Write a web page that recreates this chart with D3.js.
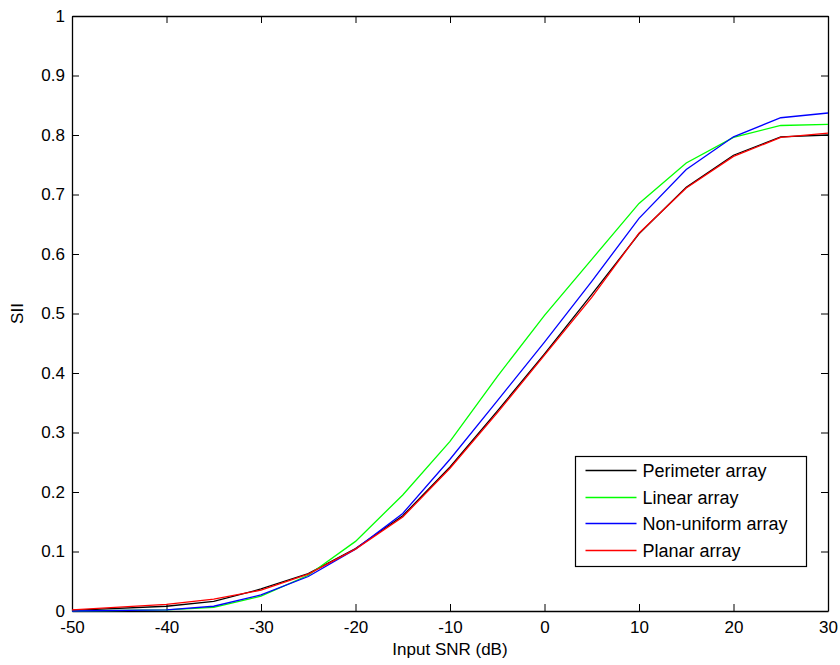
<!DOCTYPE html>
<html>
<head>
<meta charset="utf-8">
<script src="https://cdn.jsdelivr.net/npm/d3@7"></script>
<style>
  body { margin: 0; background: #fff; }
  svg { font-family: "Liberation Sans", Arial, sans-serif; }
  .tick text { font-size: 17px; fill: #000; }
</style>
</head>
<body>
<div id="chart"></div>
<script>
// data
let snr = [-50, -40, -35, -30, -25, -20, -15, -10, -5, 0, 5, 10, 15, 20, 25, 30];
let perimeter = [0.001, 0.008, 0.016, 0.037, 0.063, 0.105, 0.160, 0.242, 0.336, 0.432, 0.532, 0.634, 0.712, 0.766, 0.797, 0.800];
let linear = [0, 0.002, 0.006, 0.025, 0.060, 0.117, 0.195, 0.285, 0.394, 0.497, 0.591, 0.685, 0.753, 0.796, 0.816, 0.818];
let nonUniform = [0, 0.002, 0.008, 0.027, 0.058, 0.104, 0.164, 0.255, 0.353, 0.452, 0.554, 0.660, 0.742, 0.797, 0.829, 0.837];
let planar = [0.002, 0.011, 0.020, 0.035, 0.062, 0.104, 0.158, 0.240, 0.333, 0.430, 0.527, 0.635, 0.711, 0.764, 0.796, 0.803];

let seriesNames = ["Perimeter array", "Linear array", "Non-uniform array", "Planar array"];
let seriesColors = ["#000000", "#00ff00", "#0000ff", "#ff0000"];
let seriesValues = [perimeter, linear, nonUniform, planar];

let xTicks = [-50, -40, -30, -20, -10, 0, 10, 20, 30];
let yTicks = [0, 0.1, 0.2, 0.3, 0.4, 0.5, 0.6, 0.7, 0.8, 0.9, 1];

let svgWidth = 840;
let svgHeight = 665;
let margin = { top: 16, right: 12, bottom: 54, left: 72 };
let width = svgWidth - margin.left - margin.right;
let height = svgHeight - margin.top - margin.bottom;

let svg = d3.select("#chart")
    .append("svg")
    .attr("width", svgWidth)
    .attr("height", svgHeight);

let chartGroup = svg.append("g")
    .attr("transform", `translate(${margin.left},${margin.top})`);

let x = d3.scaleLinear().domain([-50, 30]).range([0, width]);
let y = d3.scaleLinear().domain([0, 1]).range([height, 0]);

// axes with inward ticks on all four sides
let bottomAxis = d3.axisBottom(x).tickValues(xTicks).tickSizeInner(-7).tickSizeOuter(0)
    .tickPadding(10).tickFormat(d => d.toString());
let leftAxis = d3.axisLeft(y).tickValues(yTicks).tickSizeInner(-7).tickSizeOuter(0)
    .tickPadding(7).tickFormat(d => d.toString());
let topAxis = d3.axisTop(x).tickValues(xTicks).tickSizeInner(-7).tickSizeOuter(0).tickFormat("");
let rightAxis = d3.axisRight(y).tickValues(yTicks).tickSizeInner(-7).tickSizeOuter(0).tickFormat("");

chartGroup.append("g").attr("transform", `translate(0,${height})`).call(bottomAxis);
chartGroup.append("g").call(leftAxis);
chartGroup.append("g").call(topAxis);
chartGroup.append("g").attr("transform", `translate(${width},0)`).call(rightAxis);

chartGroup.selectAll(".domain").attr("stroke", "#000").attr("stroke-width", 1.3);
chartGroup.selectAll(".tick line").attr("stroke", "#000");

// lines
let line = d3.line()
    .x((d, i) => x(snr[i]))
    .y(d => y(d));

seriesValues.forEach(function(vals, i) {
    chartGroup.append("path")
        .datum(vals)
        .attr("fill", "none")
        .attr("stroke", seriesColors[i])
        .attr("stroke-width", 1.3)
        .attr("d", line);
});

// axis labels
svg.append("text")
    .attr("x", margin.left + width / 2)
    .attr("y", 655)
    .attr("text-anchor", "middle")
    .attr("font-size", 17)
    .text("Input SNR (dB)");

svg.append("text")
    .attr("transform", `translate(23,${margin.top + height / 2}) rotate(-90)`)
    .attr("text-anchor", "middle")
    .attr("font-size", 17)
    .text("SII");

// legend
let legend = svg.append("g").attr("transform", "translate(575.5,456.5)");
legend.append("rect")
    .attr("width", 231)
    .attr("height", 110)
    .attr("fill", "#fff")
    .attr("stroke", "#000")
    .attr("stroke-width", 1.2);

seriesNames.forEach(function(name, i) {
    let row = legend.append("g").attr("transform", `translate(0,${Math.round(14 + i * 26.5)})`);
    row.append("line")
        .attr("x1", 10).attr("x2", 61)
        .attr("y1", 0).attr("y2", 0)
        .attr("stroke", seriesColors[i])
        .attr("stroke-width", 1.5);
    row.append("text")
        .attr("x", 67)
        .attr("dy", "0.35em")
        .attr("font-size", 18)
        .text(name);
});
</script>
</body>
</html>
